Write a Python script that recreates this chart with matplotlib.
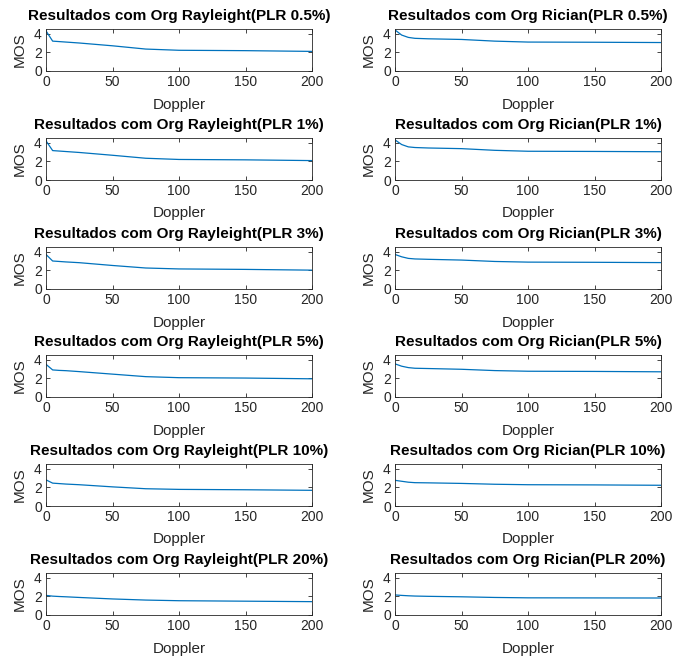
import matplotlib
matplotlib.use("Agg")
import matplotlib.pyplot as plt

plt.rcParams['font.family'] = ['Liberation Sans', 'DejaVu Sans']

doppler = [0, 5, 10, 15, 25, 50, 75, 100, 150, 200]

ray_05 = [4.30, 3.20, 3.15, 3.10, 3.00, 2.70, 2.35, 2.22, 2.18, 2.10]
ray_1 = [4.20, 3.15, 3.10, 3.05, 2.95, 2.65, 2.33, 2.20, 2.16, 2.08]
ray_3 = [3.70, 3.00, 2.95, 2.90, 2.82, 2.52, 2.25, 2.15, 2.10, 2.02]
ray_5 = [3.50, 2.90, 2.85, 2.82, 2.72, 2.45, 2.18, 2.07, 2.03, 1.95]
ray_10 = [2.80, 2.45, 2.40, 2.35, 2.28, 2.05, 1.85, 1.78, 1.74, 1.68]
ray_20 = [2.10, 2.02, 1.98, 1.95, 1.88, 1.72, 1.60, 1.53, 1.48, 1.43]

ric_05 = [4.40, 3.85, 3.60, 3.50, 3.45, 3.38, 3.20, 3.10, 3.08, 3.05]
ric_1 = [4.30, 3.80, 3.55, 3.48, 3.43, 3.36, 3.18, 3.08, 3.06, 3.03]
ric_3 = [3.70, 3.45, 3.28, 3.22, 3.18, 3.10, 2.95, 2.88, 2.86, 2.83]
ric_5 = [3.55, 3.30, 3.15, 3.08, 3.05, 2.97, 2.83, 2.76, 2.74, 2.70]
ric_10 = [2.75, 2.65, 2.55, 2.50, 2.48, 2.42, 2.33, 2.28, 2.26, 2.22]
ric_20 = [2.15, 2.10, 2.06, 2.03, 2.00, 1.95, 1.88, 1.84, 1.83, 1.82]

plr_labels = ['0.5%', '1%', '3%', '5%', '10%', '20%']
rayleigh = [ray_05, ray_1, ray_3, ray_5, ray_10, ray_20]
rician = [ric_05, ric_1, ric_3, ric_5, ric_10, ric_20]

W, H = 683, 660
fig = plt.figure(figsize=(W / 100, H / 100), dpi=100)

col_left = [46, 395]
ax_w = 266
ax_h = 42
tops = [29, 138, 247, 355, 464, 573]
txt_col = '#262626'
line_col = '#0072BD'

for r in range(6):
    for c, (name, data) in enumerate([('Rayleight', rayleigh), ('Rician', rician)]):
        x0 = col_left[c]
        y0 = tops[r]
        ax = fig.add_axes([x0 / W, 1 - (y0 + ax_h) / H, ax_w / W, ax_h / H])
        ax.plot(doppler, data[r], color=line_col, lw=0.9)
        ax.set_xlim(0, 200)
        ax.set_ylim(0, 4.5)
        ax.set_xticks([0, 50, 100, 150, 200])
        ax.set_yticks([0, 2, 4])
        ax.tick_params(direction='in', top=True, right=True, length=3,
                       labelsize=10, colors=txt_col, pad=3, width=0.6)
        for sp in ax.spines.values():
            sp.set_color(txt_col)
            sp.set_linewidth(0.6)
        ax.set_xlabel('Doppler', fontsize=11, color=txt_col, labelpad=6)
        ax.set_ylabel('MOS', fontsize=11, color=txt_col, labelpad=5)
        ax.set_title('Resultados com Org %s(PLR %s)' % (name, plr_labels[r]),
                     fontsize=11, fontweight='bold', color='black', pad=6.5)

fig.savefig('out.png', dpi=100)
